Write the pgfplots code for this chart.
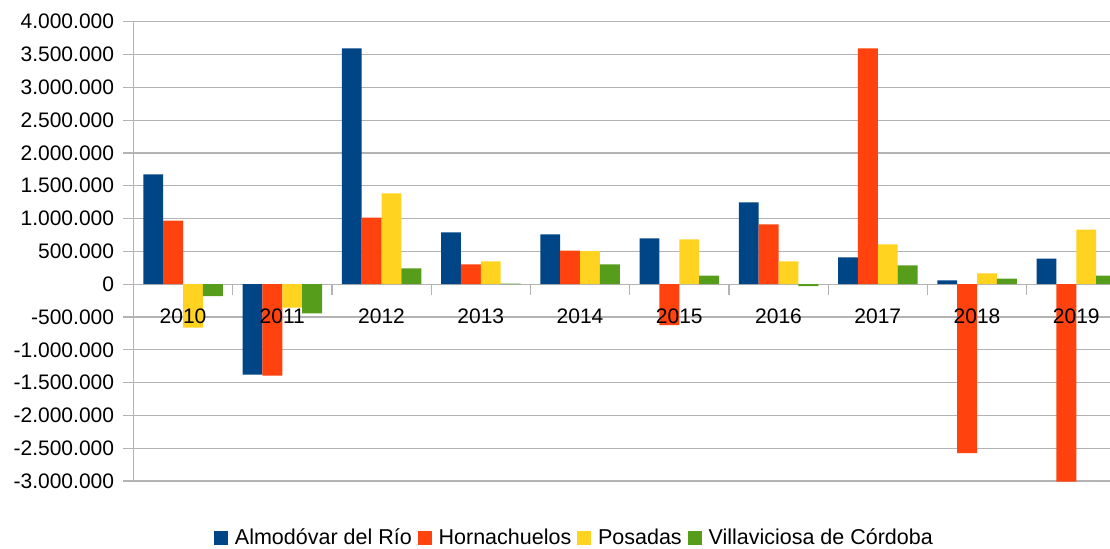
\documentclass[border=0pt]{standalone}
\usepackage{fontspec}
\setmainfont{Liberation Sans}
\usepackage{pgfplots}
\pgfplotsset{compat=1.18}
\definecolor{cA}{HTML}{004586}
\definecolor{cB}{HTML}{FF420E}
\definecolor{cC}{HTML}{FFD320}
\definecolor{cD}{HTML}{579D1C}
\definecolor{gridc}{HTML}{B3B3B3}
\newcommand\lf{\fontsize{10.5pt}{12.6pt}\selectfont}
\newcommand\lgf{\fontsize{10.75pt}{12.9pt}\selectfont}
\begin{document}
\begin{tikzpicture}
\useasboundingbox (0,0) rectangle (555pt,274pt);
\clip (0,0) rectangle (555pt,274pt);
\begin{axis}[
  at={(66.725pt,33.5pt)}, anchor=south west,
  scale only axis, width=496.25pt, height=229.65pt,
  xmin=-0.5, xmax=9.5, ymin=-3000000, ymax=4000000,
  axis x line=none, axis y line*=left,
  axis line style={gridc, line width=0.6pt},
  ytick={-3000000,-2500000,-2000000,-1500000,-1000000,-500000,0,500000,1000000,1500000,2000000,2500000,3000000,3500000,4000000},
  scaled y ticks=false,
  yticklabel={\pgfmathprintnumber[fixed, precision=0, 1000 sep={.}, assume math mode=true]{\tick}},
  yticklabel style={font=\lf, inner xsep=4.5pt},
  tick align=outside, major tick length=5pt,
  y tick style={gridc, line width=0.6pt},
  ymajorgrids, grid style={gridc, line width=0.6pt},
  legend columns=4,
  legend style={at={(0.4454,-0.1241)}, anchor=center, draw=none, fill=none, font=\lgf,
    /tikz/every odd column/.append style={column sep=1.4pt},
    /tikz/every even column/.append style={column sep=1pt}},
  legend image code/.code={\fill[#1] (0pt,-3.3pt) rectangle (7pt,3.3pt);},
]
\addplot[ybar, bar width=0.2, bar shift=-0.3, fill=cA, draw=none] coordinates {
 (0,1672000) (1,-1377000) (2,3593000) (3,788000) (4,757000) (5,696000) (6,1245000) (7,407000) (8,56000) (9,391000)};
\addplot[ybar, bar width=0.2, bar shift=-0.1, fill=cB, draw=none] coordinates {
 (0,970000) (1,-1392000) (2,1016000) (3,300000) (4,513000) (5,-625000) (6,910000) (7,3593000) (8,-2576000) (9,-3010000)};
\addplot[ybar, bar width=0.2, bar shift=0.1, fill=cC, draw=none] coordinates {
 (0,-661000) (1,-356000) (2,1382000) (3,346000) (4,503000) (5,681000) (6,346000) (7,605000) (8,163000) (9,833000)};
\addplot[ybar, bar width=0.2, bar shift=0.3, fill=cD, draw=none] coordinates {
 (0,-183000) (1,-447000) (2,239000) (3,10000) (4,300000) (5,132000) (6,-30000) (7,285000) (8,86000) (9,132000)};
\legend{Almodóvar del Río, Hornachuelos, Posadas, Villaviciosa de Córdoba}
\draw[gridc, line width=0.6pt] (axis cs:0.5,0) -- ++(0pt,-5.5pt);
\draw[gridc, line width=0.6pt] (axis cs:1.5,0) -- ++(0pt,-5.5pt);
\draw[gridc, line width=0.6pt] (axis cs:2.5,0) -- ++(0pt,-5.5pt);
\draw[gridc, line width=0.6pt] (axis cs:3.5,0) -- ++(0pt,-5.5pt);
\draw[gridc, line width=0.6pt] (axis cs:4.5,0) -- ++(0pt,-5.5pt);
\draw[gridc, line width=0.6pt] (axis cs:5.5,0) -- ++(0pt,-5.5pt);
\draw[gridc, line width=0.6pt] (axis cs:6.5,0) -- ++(0pt,-5.5pt);
\draw[gridc, line width=0.6pt] (axis cs:7.5,0) -- ++(0pt,-5.5pt);
\draw[gridc, line width=0.6pt] (axis cs:8.5,0) -- ++(0pt,-5.5pt);
\node[anchor=base, yshift=-19.8pt, font=\lf] at (axis cs:0,0) {2010};
\node[anchor=base, yshift=-19.8pt, font=\lf] at (axis cs:1,0) {2011};
\node[anchor=base, yshift=-19.8pt, font=\lf] at (axis cs:2,0) {2012};
\node[anchor=base, yshift=-19.8pt, font=\lf] at (axis cs:3,0) {2013};
\node[anchor=base, yshift=-19.8pt, font=\lf] at (axis cs:4,0) {2014};
\node[anchor=base, yshift=-19.8pt, font=\lf] at (axis cs:5,0) {2015};
\node[anchor=base, yshift=-19.8pt, font=\lf] at (axis cs:6,0) {2016};
\node[anchor=base, yshift=-19.8pt, font=\lf] at (axis cs:7,0) {2017};
\node[anchor=base, yshift=-19.8pt, font=\lf] at (axis cs:8,0) {2018};
\node[anchor=base, yshift=-19.8pt, font=\lf] at (axis cs:9,0) {2019};
\end{axis}
\end{tikzpicture}
\end{document}
